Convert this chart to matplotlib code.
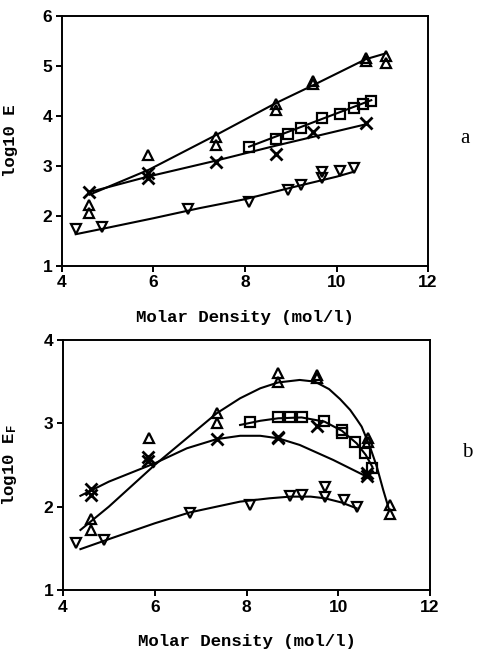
import matplotlib
matplotlib.use("Agg")
import matplotlib.pyplot as plt

plt.rcParams['mathtext.fontset'] = 'custom'
plt.rcParams['mathtext.rm'] = 'Liberation Mono:bold'
plt.rcParams['mathtext.it'] = 'Liberation Mono:bold'

# ---- panel a: log10 E vs molar density ----
a_up_x = [4.6, 4.6, 5.87, 7.36, 7.36, 8.67, 8.67, 9.49, 9.49, 10.64, 10.64, 11.09, 11.09]
a_up_y = [2.21, 2.06, 3.21, 3.58, 3.41, 4.23, 4.11, 4.69, 4.63, 5.15, 5.09, 5.19, 5.05]
a_up_fit_x = [4.6, 5.9, 7.36, 8.67, 9.49, 10.64, 11.09]
a_up_fit_y = [2.42, 2.92, 3.61, 4.25, 4.61, 5.13, 5.25]

a_sq_x = [8.09, 8.67, 8.94, 9.23, 9.69, 10.07, 10.38, 10.59, 10.76]
a_sq_y = [3.38, 3.53, 3.63, 3.75, 3.95, 4.03, 4.15, 4.23, 4.29]
a_sq_fit_x = [8.09, 10.76]
a_sq_fit_y = [3.38, 4.31]

a_x_x = [4.59, 5.87, 5.87, 7.36, 8.67, 9.49, 10.65]
a_x_y = [2.47, 2.85, 2.76, 3.08, 3.23, 3.68, 3.86]
a_x_fit_x = [4.59, 5.87, 7.36, 8.67, 10.65]
a_x_fit_y = [2.47, 2.78, 3.10, 3.40, 3.83]

a_dn_x = [4.30, 4.87, 6.75, 8.09, 8.95, 9.23, 9.69, 9.69, 10.08, 10.38]
a_dn_y = [1.73, 1.78, 2.13, 2.28, 2.51, 2.61, 2.88, 2.75, 2.90, 2.95]
a_dn_fit_x = [4.3, 5.0, 6.0, 7.0, 8.0, 9.0, 10.0, 10.38]
a_dn_fit_y = [1.63, 1.76, 1.95, 2.15, 2.33, 2.56, 2.78, 2.88]

# ---- panel b: log10 E_F vs molar density ----
b_up_x = [4.6, 4.6, 5.87, 7.35, 7.35, 8.69, 8.69, 9.53, 9.53, 10.65, 10.65, 11.13, 11.13]
b_up_y = [1.85, 1.72, 2.82, 3.12, 3.00, 3.60, 3.50, 3.58, 3.54, 2.82, 2.78, 2.02, 1.91]
b_up_fit_x = [4.38, 5.0, 6.0, 7.35, 7.86, 8.3, 8.69, 9.16, 9.49, 9.8, 10.04, 10.26,
              10.4, 10.51, 10.69, 10.84, 10.98, 11.11]
b_up_fit_y = [1.72, 2.00, 2.50, 3.12, 3.30, 3.42, 3.49, 3.52, 3.50, 3.41, 3.29, 3.16,
              3.05, 2.96, 2.72, 2.48, 2.20, 1.96]

b_sq_x = [8.07, 8.69, 8.95, 9.20, 9.70, 10.08, 10.08, 10.37, 10.58, 10.74]
b_sq_y = [3.01, 3.07, 3.08, 3.08, 3.03, 2.92, 2.88, 2.78, 2.64, 2.46]
b_sq_fit_x = [7.86, 8.3, 8.69, 9.2, 9.7, 10.08, 10.4, 10.6, 10.74]
b_sq_fit_y = [2.98, 3.03, 3.06, 3.07, 3.02, 2.91, 2.76, 2.62, 2.48]

b_x_x = [4.60, 4.60, 5.86, 5.86, 7.35, 8.69, 8.69, 9.54, 10.62, 10.62]
b_x_y = [2.21, 2.14, 2.60, 2.55, 2.81, 2.84, 2.82, 2.97, 2.40, 2.37]
b_x_fit_x = [4.38, 5.0, 6.0, 6.7, 7.35, 7.86, 8.3, 8.69, 9.16, 9.89, 10.62]
b_x_fit_y = [2.13, 2.30, 2.52, 2.70, 2.81, 2.85, 2.85, 2.82, 2.74, 2.56, 2.36]

b_dn_x = [4.29, 4.90, 6.76, 8.07, 8.95, 9.22, 9.71, 9.71, 10.12, 10.40]
b_dn_y = [1.56, 1.60, 1.92, 2.02, 2.13, 2.14, 2.24, 2.12, 2.08, 2.00]
b_dn_fit_x = [4.38, 5.0, 6.0, 6.76, 7.35, 7.86, 8.5, 8.95, 9.4, 9.71, 10.07, 10.4]
b_dn_fit_y = [1.49, 1.61, 1.80, 1.93, 2.00, 2.06, 2.10, 2.12, 2.12, 2.10, 2.05, 1.98]

x_ticks = [4, 6, 8, 10, 12]

mark = dict(linestyle='none', fillstyle='none', color='black')


def draw_panel(ax, series, yticks, ylabel, tag, tag_y):
    for (px, py, fx, fy, m, ms, mw) in series:
        ax.plot(fx, fy, color='black', lw=1.5)
        ax.plot(px, py, marker=m, ms=ms, mew=mw, **mark)
    ax.set_xlim(4, 12)
    ax.set_ylim(yticks[0], yticks[-1])
    ax.set_xticks(x_ticks)
    ax.set_yticks(yticks)
    ax.tick_params(direction='out', length=4, width=1.4, labelsize=12.5, pad=3)
    for lab in ax.get_xticklabels() + ax.get_yticklabels():
        lab.set_family('Liberation Sans')
        lab.set_weight('bold')
    for sp in ax.spines.values():
        sp.set_linewidth(1.4)
    ax.set_xlabel('Molar Density (mol/l)', family='Liberation Mono',
                  weight='bold', fontsize=12.5, labelpad=14)
    ax.set_ylabel(ylabel, family='Liberation Mono', weight='bold', fontsize=12.5)
    ax.yaxis.set_label_coords(-0.12, 0.5)
    ax.text(1.1, tag_y, tag, transform=ax.transAxes, family='Liberation Serif',
            fontsize=15, ha='center', va='center')


fig = plt.figure(figsize=(4.78, 6.54), dpi=100)
ax1 = fig.add_axes([0.1297, 0.5937, 0.7657, 0.3823])
ax2 = fig.add_axes([0.1318, 0.0979, 0.7678, 0.3823])

draw_panel(ax1, [
    (a_up_x, a_up_y, a_up_fit_x, a_up_fit_y, '^', 7, 1.6),
    (a_sq_x, a_sq_y, a_sq_fit_x, a_sq_fit_y, 's', 6.5, 1.6),
    (a_x_x, a_x_y, a_x_fit_x, a_x_fit_y, 'x', 9, 2.0),
    (a_dn_x, a_dn_y, a_dn_fit_x, a_dn_fit_y, 'v', 7, 1.6),
], [1, 2, 3, 4, 5, 6], 'log10 E', 'a', 0.51)

draw_panel(ax2, [
    (b_up_x, b_up_y, b_up_fit_x, b_up_fit_y, '^', 7, 1.6),
    (b_sq_x, b_sq_y, b_sq_fit_x, b_sq_fit_y, 's', 6.5, 1.6),
    (b_x_x, b_x_y, b_x_fit_x, b_x_fit_y, 'x', 9, 2.0),
    (b_dn_x, b_dn_y, b_dn_fit_x, b_dn_fit_y, 'v', 7, 1.6),
], [1, 2, 3, 4], r'log10 E$_{\mathrm{F}}$', 'b', 0.55)

fig.savefig('out.png', dpi=100)
